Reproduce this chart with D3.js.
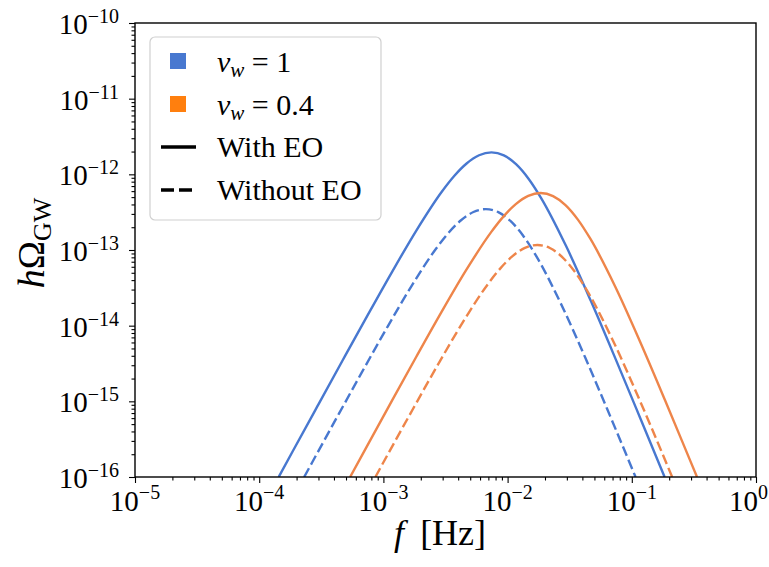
<!doctype html>
<html lang="en">
<head>
<meta charset="utf-8">
<title>GW spectrum, with and without EO</title>
<style>
  body { margin: 0; background: #fff; }
  svg text { font-family: "Liberation Serif", "DejaVu Serif", serif; fill: #000; }
</style>
</head>
<body>
<script src="https://cdn.jsdelivr.net/npm/d3@7/dist/d3.min.js"></script>
<script>

// values (f in Hz, h Omega_GW)
var fBlueEO = [1.436e-4, 1.862e-4, 2.951e-4, 4.677e-4, 7.413e-4, 1.175e-3, 1.862e-3, 2.951e-3, 3.715e-3, 4.677e-3,
               5.888e-3, 7.413e-3, 9.333e-3, 1.175e-2, 1.479e-2, 1.862e-2, 2.951e-2, 4.677e-2, 7.413e-2, 0.1175, 0.1837];
var hBlueEO = [1e-16, 2.188e-16, 8.69e-16, 3.436e-15, 1.346e-14, 5.152e-14, 1.862e-13, 5.888e-13, 9.506e-13, 1.390e-12,
               1.786e-12, 1.950e-12, 1.778e-12, 1.352e-12, 8.69e-13, 4.853e-13, 1.135e-13, 2.128e-14, 3.614e-15, 5.888e-16, 1e-16];

var fBlueNoEO = [2.301e-4, 2.661e-4, 4.217e-4, 6.683e-4, 1.059e-3, 1.679e-3, 2.661e-3, 3.350e-3, 4.217e-3, 5.309e-3,
                 6.683e-3, 8.414e-3, 1.059e-2, 1.334e-2, 1.679e-2, 2.661e-2, 4.217e-2, 6.683e-2, 0.1072];
var hBlueNoEO = [1e-16, 1.545e-16, 6.109e-16, 2.393e-15, 9.162e-15, 3.311e-14, 1.047e-13, 1.690e-13, 2.472e-13, 3.177e-13,
                 3.467e-13, 3.162e-13, 2.404e-13, 1.545e-13, 8.630e-14, 2.018e-14, 3.784e-15, 6.427e-16, 1e-16];

var fOrangeEO = [5.395e-4, 7.345e-4, 1.164e-3, 1.845e-3, 2.924e-3, 4.634e-3, 7.345e-3, 9.247e-3, 1.164e-2, 1.466e-2,
                 1.845e-2, 2.323e-2, 2.924e-2, 3.681e-2, 4.634e-2, 7.345e-2, 0.1164, 0.1845, 0.2924, 0.3350];
var hOrangeEO = [1e-16, 2.523e-16, 9.98e-16, 3.908e-15, 1.496e-14, 5.408e-14, 1.710e-13, 2.761e-13, 4.036e-13, 5.188e-13,
                 5.662e-13, 5.164e-13, 3.926e-13, 2.523e-13, 1.409e-13, 3.296e-14, 6.180e-15, 1.050e-15, 1.710e-16, 1e-16];

var fOrangeNoEO = [8.619e-4, 1.096e-3, 1.738e-3, 2.754e-3, 4.365e-3, 6.918e-3, 8.710e-3, 1.096e-2, 1.380e-2,
                   1.738e-2, 2.188e-2, 2.754e-2, 3.467e-2, 4.365e-2, 6.918e-2, 0.1096, 0.1738, 0.2113];
var hOrangeNoEO = [1e-16, 2.051e-16, 8.035e-16, 3.076e-15, 1.112e-14, 3.516e-14, 5.675e-14, 8.299e-14, 1.067e-13,
                   1.164e-13, 1.062e-13, 8.072e-14, 5.188e-14, 2.897e-14, 6.776e-15, 1.271e-15, 2.158e-16, 1e-16];

var xTicks = [1e-5, 1e-4, 1e-3, 1e-2, 1e-1, 1];
var xTickExp = ["\u22125", "\u22124", "\u22123", "\u22122", "\u22121", "0"];
var yTicks = [1e-16, 1e-15, 1e-14, 1e-13, 1e-12, 1e-11, 1e-10];
var yTickExp = ["\u221216", "\u221215", "\u221214", "\u221213", "\u221212", "\u221211", "\u221210"];

var blue = "#4878d0", orange = "#ee854a", orangeSwatch = "#ff7f0e";

var series = [
  {f: fBlueEO, h: hBlueEO, color: blue, dash: null},
  {f: fBlueNoEO, h: hBlueNoEO, color: blue, dash: "10,4.2"},
  {f: fOrangeEO, h: hOrangeEO, color: orange, dash: null},
  {f: fOrangeNoEO, h: hOrangeNoEO, color: orange, dash: "10,4.2"}
];

var margin = {top: 23, right: 13, bottom: 90, left: 135},
    width  = 769 - margin.left - margin.right,
    height = 567 - margin.top  - margin.bottom;

var svg = d3.select("body")
  .append("svg")
  .attr("width", 769)
  .attr("height", 567);

var chart = svg.append("g")
  .attr("transform", "translate(" + margin.left + "," + margin.top + ")");

var x = d3.scaleLog().domain([1e-5, 1]).range([0, width]);
var y = d3.scaleLog().domain([1e-16, 1e-10]).range([height, 0]);

chart.append("clipPath").attr("id", "plotclip")
  .append("rect").attr("width", width).attr("height", height);

var line = d3.line()
  .x(function(d){ return x(d[0]); })
  .y(function(d){ return y(d[1]); })
  .curve(d3.curveMonotoneX);

chart.append("g").attr("clip-path", "url(#plotclip)")
  .selectAll("path")
  .data(series)
  .enter()
  .append("path")
  .attr("d", function(s){ return line(s.f.map(function(v, i){ return [v, s.h[i]]; })); })
  .attr("fill", "none")
  .attr("stroke", function(s){ return s.color; })
  .attr("stroke-width", 2.4)
  .attr("stroke-dasharray", function(s){ return s.dash; });

// minor ticks
var xMinor = x.ticks().filter(function(t){ return xTicks.indexOf(t) < 0; });
var yMinor = y.ticks().filter(function(t){ return yTicks.indexOf(t) < 0; });

var gx = chart.append("g").attr("transform", "translate(0," + height + ")");
gx.call(d3.axisBottom(x).tickValues(xTicks).tickSize(6).tickSizeOuter(0).tickFormat(""));
gx.append("g").call(d3.axisBottom(x).tickValues(xMinor).tickSize(3.5).tickSizeOuter(0).tickFormat(""));

var gy = chart.append("g");
gy.call(d3.axisLeft(y).tickValues(yTicks).tickSize(6).tickSizeOuter(0).tickFormat(""));
gy.append("g").call(d3.axisLeft(y).tickValues(yMinor).tickSize(3.5).tickSizeOuter(0).tickFormat(""));

chart.selectAll(".tick line").attr("stroke", "#000").attr("stroke-width", 1.1);
chart.selectAll(".domain").remove();

chart.append("rect")
  .attr("width", width)
  .attr("height", height)
  .attr("fill", "none")
  .attr("stroke", "#000")
  .attr("stroke-width", 1.4);

// tick labels, 10^n
xTicks.forEach(function(t, i){
  var last = i === xTicks.length - 1;
  var tx = chart.append("text")
    .attr("x", last ? 769 - margin.left - 1 : x(t))
    .attr("y", height + 34)
    .attr("text-anchor", last ? "end" : "middle")
    .style("font-size", "29px");
  tx.append("tspan").text("10");
  tx.append("tspan").attr("dy", -12).style("font-size", "20px").text(xTickExp[i]);
});

yTicks.forEach(function(t, i){
  var ty = chart.append("text")
    .attr("x", -16)
    .attr("y", y(t) + 11)
    .attr("text-anchor", "end")
    .style("font-size", "29px");
  ty.append("tspan").text("10");
  ty.append("tspan").attr("dy", -11).style("font-size", "20px").text(yTickExp[i]);
});

// axis titles
var xl = svg.append("text")
  .attr("x", 440)
  .attr("y", 545)
  .attr("text-anchor", "middle")
  .style("font-size", "36px");
xl.append("tspan").style("font-style", "italic").text("f");
xl.append("tspan").text("\u2009 [Hz]");

var yl = svg.append("text")
  .attr("transform", "translate(44,243) rotate(-90)")
  .attr("text-anchor", "middle")
  .style("font-size", "38px");
yl.append("tspan").style("font-style", "italic").text("h");
yl.append("tspan").text("\u03a9");
yl.append("tspan").attr("dy", 7).style("font-size", "26px").text("GW");

// legend
var leg = svg.append("g");
leg.append("rect")
  .attr("x", 150).attr("y", 37)
  .attr("width", 231).attr("height", 183)
  .attr("rx", 5)
  .attr("fill", "rgba(255,255,255,0.8)")
  .attr("stroke", "#d0d0d0")
  .attr("stroke-width", 1.2);

var swatches = [{c: blue, v: "1"}, {c: orangeSwatch, v: "0.4"}];
swatches.forEach(function(s, i){
  var yy = 72 + i * 43;
  leg.append("rect")
    .attr("x", 170).attr("y", yy - 19)
    .attr("width", 16).attr("height", 16)
    .attr("fill", s.c);
  var t = leg.append("text").attr("x", 217).attr("y", yy).style("font-size", "30px");
  t.append("tspan").style("font-style", "italic").text("v");
  t.append("tspan").attr("dy", 5).style("font-style", "italic").style("font-size", "21px").text("w");
  t.append("tspan").attr("dy", -5).text(" = " + s.v);
});

var styles = [{label: "With EO", dash: null}, {label: "Without EO", dash: "13,5"}];
styles.forEach(function(s, i){
  var yy = 157 + i * 43;
  leg.append("line")
    .attr("x1", 161).attr("x2", 196)
    .attr("y1", yy - 10).attr("y2", yy - 10)
    .attr("stroke", "#000")
    .attr("stroke-width", 3.5)
    .attr("stroke-dasharray", s.dash);
  leg.append("text").attr("x", 217).attr("y", yy).style("font-size", "30px").text(s.label);
});

</script>
</body>
</html>
